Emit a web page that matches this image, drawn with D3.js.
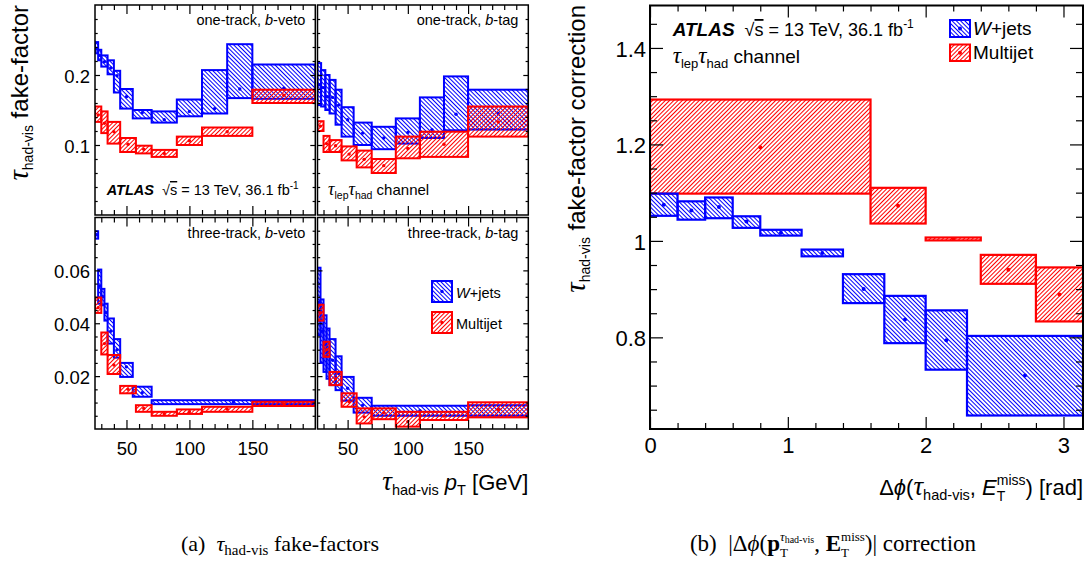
<!DOCTYPE html>
<html><head><meta charset="utf-8">
<script src="https://cdn.jsdelivr.net/npm/d3@7"></script>
<style>body{margin:0;background:#fff} svg{display:block} text{white-space:pre}</style>
</head><body><svg id="c" width="1090" height="563"></svg>
<script>
// ---------------- DATA ----------------
const ptDomain = [25, 200];
const ptMajor = [50, 100, 150];
const ptMinor = [30, 40, 60, 70, 80, 90, 110, 120, 130, 140, 160, 170, 180, 190];
const ffTopDomain = [0, 0.3];
const ffTopMajor = [0.1, 0.2];
const ffTopMinor = [0.02, 0.04, 0.06, 0.08, 0.12, 0.14, 0.16, 0.18, 0.22, 0.24, 0.26, 0.28];
const ffBotDomain = [0, 0.08];
const ffBotMajor = [0.02, 0.04, 0.06];
const ffBotMinor = [0.005, 0.01, 0.015, 0.025, 0.03, 0.035, 0.045, 0.05, 0.055, 0.065, 0.07, 0.075];

// one-track, b-veto
const wj1bvEdges = [25, 27.5, 30, 35, 40, 45, 55, 70, 90, 110, 130, 150, 200];
const wj1bvVal = [0.237, 0.228, 0.219, 0.210, 0.199, 0.169, 0.146, 0.136, 0.148, 0.152, 0.180, 0.181];
const wj1bvLo  = [0.231, 0.221, 0.212, 0.201, 0.175, 0.152, 0.138, 0.132, 0.141, 0.145, 0.167, 0.166];
const wj1bvHi  = [0.247, 0.236, 0.228, 0.221, 0.206, 0.180, 0.150, 0.148, 0.165, 0.207, 0.244, 0.215];
const mj1bvEdges = [25, 30, 35, 45, 57.5, 70, 90, 110, 150, 200];
const mj1bvVal = [0.143, 0.131, 0.119, 0.101, 0.094, 0.088, 0.106, 0.119, 0.171];
const mj1bvLo  = [0.133, 0.117, 0.102, 0.090, 0.088, 0.083, 0.100, 0.113, 0.160];
const mj1bvHi  = [0.155, 0.148, 0.133, 0.110, 0.099, 0.093, 0.112, 0.125, 0.179];

// one-track, b-tag
const wj1btEdges = [25, 28, 31.5, 35, 40, 45, 55, 70, 90, 110, 130, 150, 200];
const wj1btVal = [0.186, 0.182, 0.169, 0.168, 0.157, 0.136, 0.117, 0.110, 0.118, 0.122, 0.144, 0.145];
const wj1btLo  = [0.157, 0.155, 0.150, 0.145, 0.129, 0.112, 0.100, 0.094, 0.102, 0.110, 0.121, 0.122];
const wj1btHi  = [0.217, 0.207, 0.200, 0.193, 0.179, 0.154, 0.132, 0.126, 0.138, 0.168, 0.198, 0.179];
const mj1btEdges = [25, 30, 35, 45, 57.5, 70, 90, 110, 150, 200];
const mj1btVal = [0.127, 0.102, 0.099, 0.087, 0.0795, 0.0705, 0.095, 0.101, 0.133];
const mj1btLo  = [0.120, 0.090, 0.090, 0.078, 0.068, 0.060, 0.081, 0.083, 0.112];
const mj1btHi  = [0.134, 0.113, 0.107, 0.098, 0.092, 0.080, 0.112, 0.119, 0.155];

// three-track, b-veto
const wj3bvEdges = [25, 27.5, 30, 32.5, 35, 40, 45, 55, 70, 200];
const wj3bvVal = [0.0735, 0.054, 0.050, 0.044, 0.037, 0.030, 0.0235, 0.0137, 0.0102];
const wj3bvLo  = [0.0720, 0.0474, 0.0468, 0.0410, 0.0323, 0.0270, 0.0197, 0.0122, 0.0094];
const wj3bvHi  = [0.0748, 0.0603, 0.0530, 0.0474, 0.0418, 0.0340, 0.0250, 0.0160, 0.0109];
const mj3bvEdges = [25, 30, 35, 45, 57.5, 70, 90, 110, 150, 200];
const mj3bvVal = [0.0459, 0.0323, 0.0242, 0.0150, 0.0078, 0.0058, 0.0065, 0.0075, 0.0095];
const mj3bvLo  = [0.0439, 0.0282, 0.0208, 0.0135, 0.0065, 0.0050, 0.0057, 0.0065, 0.0087];
const mj3bvHi  = [0.0497, 0.0365, 0.0280, 0.0163, 0.0090, 0.0065, 0.0074, 0.0084, 0.0103];

// three-track, b-tag
const wj3btEdges = [25, 27.5, 30, 32.5, 35, 40, 45, 55, 70, 150, 200];
const wj3btVal = [0.048, 0.037, 0.032, 0.029, 0.026, 0.021, 0.0154, 0.0090, 0.0069, 0.0072];
const wj3btLo  = [0.0355, 0.025, 0.0216, 0.019, 0.0166, 0.0147, 0.0107, 0.0062, 0.0050, 0.0050];
const wj3btHi  = [0.061, 0.049, 0.043, 0.038, 0.034, 0.0275, 0.0197, 0.0118, 0.0088, 0.0090];
const mj3btEdges = [25, 30, 35, 45, 57.5, 70, 90, 110, 150, 200];
const mj3btVal = [0.044, 0.030, 0.019, 0.0103, 0.0046, 0.0062, 0.0028, 0.0049, 0.0074];
const mj3btLo  = [0.041, 0.0273, 0.0166, 0.0084, 0.0021, 0.0037, 0.0009, 0.0034, 0.0044];
const mj3btHi  = [0.047, 0.033, 0.0216, 0.0135, 0.0078, 0.0078, 0.0065, 0.0065, 0.0101];

// Delta-phi correction
const dphiDomain = [0, 3.1416];
const dphiMajor = [0, 1, 2, 3];
const dphiMinor = [0.2, 0.4, 0.6, 0.8, 1.2, 1.4, 1.6, 1.8, 2.2, 2.4, 2.6, 2.8];
const corrDomain = [0.61, 1.488];
const corrMajor = [0.8, 1.0, 1.2, 1.4];
const corrMinor = [0.65, 0.7, 0.75, 0.85, 0.9, 0.95, 1.05, 1.1, 1.15, 1.25, 1.3, 1.35, 1.45];
const wjDphiEdges = [0, 0.2, 0.4, 0.6, 0.8, 1.1, 1.4, 1.7, 2.0, 2.3, 3.1416];
const wjDphiVal = [1.075, 1.063, 1.070, 1.040, 1.017, 0.975, 0.900, 0.837, 0.794, 0.721];
const wjDphiLo  = [1.052, 1.044, 1.047, 1.027, 1.011, 0.968, 0.871, 0.788, 0.733, 0.638];
const wjDphiHi  = [1.098, 1.082, 1.090, 1.051, 1.023, 0.982, 0.931, 0.886, 0.856, 0.803];
const mjDphiEdges = [0, 1.6, 2.0, 2.4, 2.8, 3.1416];
const mjDphiVal = [1.194, 1.073, 1.004, 0.940, 0.889];
const mjDphiLo  = [1.098, 1.036, 1.001, 0.911, 0.833];
const mjDphiHi  = [1.293, 1.110, 1.007, 0.971, 0.945];

// ---------------- RENDER ----------------
const SANS = "'Liberation Sans', Arial, Helvetica, sans-serif";
const SERIF = "'Liberation Serif', 'Times New Roman', serif";
const BLUE = "#0000ff", RED = "#ff0000";
const svg = d3.select("#c");
const defs = svg.append("defs");
function makeHatch(id, color, angle, sp) {
  const p = defs.append("pattern").attr("id", id).attr("patternUnits", "userSpaceOnUse")
    .attr("width", sp).attr("height", 10).attr("patternTransform", `rotate(${angle})`);
  p.append("rect").attr("x", sp / 2 - 0.5).attr("y", 0).attr("width", 1).attr("height", 10).attr("fill", color);
}
makeHatch("hB", BLUE, -45, 3);
makeHatch("hR", RED, 45, 3);

function drawSeries(g, xs, ys, edges, val, lo, hi, color, pat, r, sw) {
  const idx = d3.range(val.length);
  g.append("g").selectAll("rect").data(idx).join("rect")
    .attr("x", i => xs(edges[i])).attr("width", i => xs(edges[i + 1]) - xs(edges[i]))
    .attr("y", i => ys(hi[i])).attr("height", i => Math.max(ys(lo[i]) - ys(hi[i]), 1))
    .attr("fill", `url(#${pat})`).attr("stroke", color).attr("stroke-width", sw);
  g.append("g").selectAll("circle").data(idx).join("circle")
    .attr("cx", i => (xs(edges[i]) + xs(edges[i + 1])) / 2).attr("cy", i => ys(val[i]))
    .attr("r", r).attr("fill", color);
}

function axisTicks(g, scale, orient, tx, ty, values, len, labels, fs, pad, dy) {
  const gen = { left: d3.axisLeft, right: d3.axisRight, top: d3.axisTop, bottom: d3.axisBottom }[orient];
  const ax = gen(scale).tickValues(values).tickSizeInner(-len).tickSizeOuter(0).tickPadding(pad || 3)
    .tickFormat(labels ? (d => String(d)) : (() => ""));
  const a = g.append("g").attr("transform", `translate(${tx},${ty})`).call(ax);
  a.select(".domain").remove();
  a.selectAll("line").attr("stroke", "#000").attr("stroke-width", 1.2);
  a.selectAll("text").attr("font-size", fs || 10).attr("font-family", SANS).attr("fill", "#000");
  if (dy) a.selectAll("text").attr("dy", dy);
}

function rich(g, x, y, segs, opt) {
  const t = g.append("text").attr("x", x).attr("y", y).attr("font-size", opt.fs)
    .attr("text-anchor", opt.anchor || "start").attr("font-family", opt.ff || SANS).attr("fill", "#000");
  if (opt.rot) t.attr("transform", `rotate(${opt.rot},${x},${y})`);
  let cur = 0;
  segs.forEach(s => {
    const sh = s.sh || 0;
    const ts = t.append("tspan").text(s.t).attr("dy", sh - cur);
    cur = sh;
    if (s.fs) ts.attr("font-size", s.fs);
    if (s.it) ts.attr("font-style", "italic");
    if (s.b) ts.attr("font-weight", "bold");
    if (s.dx) ts.attr("dx", s.dx);
    if (s.ol) ts.attr("text-decoration", "overline");
    if (s.ff) ts.attr("font-family", s.ff);
  });
  return t;
}
// a tau glyph segment (larger, serif italic like ROOT's symbol font)
function tau(size, sh) { return { t: "τ", fs: size, it: true, ff: SERIF, sh: sh || 0 }; }

function legendBox(g, x, y, w, h, color, pat, r) {
  g.append("rect").attr("x", x).attr("y", y).attr("width", w).attr("height", h)
    .attr("fill", `url(#${pat})`).attr("stroke", color).attr("stroke-width", 2);
  g.append("circle").attr("cx", x + w / 2).attr("cy", y + h / 2).attr("r", r).attr("fill", color);
}

let clipN = 0;
function panel(o) {
  const xs = d3.scaleLinear().domain(ptDomain).range([o.x0, o.x1]);
  const ys = d3.scaleLinear().domain(o.yd).range([o.y1, o.y0]);
  const g = svg.append("g");
  const cid = "clip" + (clipN++);
  defs.append("clipPath").attr("id", cid).append("rect")
    .attr("x", o.x0).attr("y", o.y0).attr("width", o.x1 - o.x0).attr("height", o.y1 - o.y0);
  const dg = g.append("g").attr("clip-path", `url(#${cid})`);
  drawSeries(dg, xs, ys, o.wj[0], o.wj[1], o.wj[2], o.wj[3], BLUE, "hB", 1.7, 2);
  drawSeries(dg, xs, ys, o.mj[0], o.mj[1], o.mj[2], o.mj[3], RED, "hR", 1.7, 2);
  axisTicks(g, ys, "left", o.x0, 0, o.yMajor, 5, o.showY, 18.5, 5, "0.4em");
  axisTicks(g, ys, "left", o.x0, 0, o.yMinor, 2.7, false);
  axisTicks(g, ys, "right", o.x1, 0, o.yMajor, 5, false);
  axisTicks(g, ys, "right", o.x1, 0, o.yMinor, 2.7, false);
  axisTicks(g, xs, "bottom", 0, o.y1, ptMajor, 9, o.showX, 18.5, 13);
  axisTicks(g, xs, "bottom", 0, o.y1, ptMinor, 5, false);
  axisTicks(g, xs, "top", 0, o.y0, ptMajor, 9, false);
  axisTicks(g, xs, "top", 0, o.y0, ptMinor, 5, false);
  g.append("rect").attr("x", o.x0).attr("y", o.y0).attr("width", o.x1 - o.x0).attr("height", o.y1 - o.y0)
    .attr("fill", "none").attr("stroke", "#000").attr("stroke-width", 1.5);
  rich(g, o.x1 - 10, o.y0 + 20, o.label, { fs: 14.5, anchor: "end" });
  return g;
}

const L = { x0: 95, x1: 315.3, y0: 5, y1: 215 };
const R = { x0: 317.5, x1: 528.3 };
const B = { y0: 217.5, y1: 429 };

panel({ x0: L.x0, x1: L.x1, y0: L.y0, y1: L.y1, yd: ffTopDomain, yMajor: ffTopMajor, yMinor: ffTopMinor,
  showY: true, showX: false, wj: [wj1bvEdges, wj1bvVal, wj1bvLo, wj1bvHi], mj: [mj1bvEdges, mj1bvVal, mj1bvLo, mj1bvHi],
  label: [{ t: "one-track, " }, { t: "b", it: true }, { t: "-veto" }] });
panel({ x0: R.x0, x1: R.x1, y0: L.y0, y1: L.y1, yd: ffTopDomain, yMajor: ffTopMajor, yMinor: ffTopMinor,
  showY: false, showX: false, wj: [wj1btEdges, wj1btVal, wj1btLo, wj1btHi], mj: [mj1btEdges, mj1btVal, mj1btLo, mj1btHi],
  label: [{ t: "one-track, " }, { t: "b", it: true }, { t: "-tag" }] });
panel({ x0: L.x0, x1: L.x1, y0: B.y0, y1: B.y1, yd: ffBotDomain, yMajor: ffBotMajor, yMinor: ffBotMinor,
  showY: true, showX: true, wj: [wj3bvEdges, wj3bvVal, wj3bvLo, wj3bvHi], mj: [mj3bvEdges, mj3bvVal, mj3bvLo, mj3bvHi],
  label: [{ t: "three-track, " }, { t: "b", it: true }, { t: "-veto" }] });
panel({ x0: R.x0, x1: R.x1, y0: B.y0, y1: B.y1, yd: ffBotDomain, yMajor: ffBotMajor, yMinor: ffBotMinor,
  showY: false, showX: true, wj: [wj3btEdges, wj3btVal, wj3btLo, wj3btHi], mj: [mj3btEdges, mj3btVal, mj3btLo, mj3btHi],
  label: [{ t: "three-track, " }, { t: "b", it: true }, { t: "-tag" }] });

// left chart annotations
const ann = svg.append("g");
rich(ann, 106.7, 195, [{ t: "ATLAS", b: true, it: true }, { t: "  √" }, { t: "s", ol: true }, { t: " = 13 TeV, 36.1 fb" }, { t: "-1", fs: 10, sh: -6 }], { fs: 14.5 });
rich(ann, 328, 195, [tau(18), { t: "lep", fs: 10.5, sh: 4 }, tau(18, 0), { t: "had", fs: 10.5, sh: 4 }, { t: " channel", sh: 0 }], { fs: 15 });
legendBox(ann, 432, 281, 20, 21, BLUE, "hB", 1.7);
legendBox(ann, 432, 312, 20, 21, RED, "hR", 1.7);
rich(ann, 456, 298, [{ t: "W", it: true }, { t: "+jets" }], { fs: 14.5 });
rich(ann, 456, 329, [{ t: "Multijet" }], { fs: 14.5 });

// axis titles left chart
rich(ann, 28, 5, [tau(29), { t: "had-vis", fs: 14, sh: 5 }, { t: " fake-factor", sh: 0 }], { fs: 24, anchor: "end", rot: -90 });
rich(ann, 528.3, 490, [tau(27), { t: "had-vis", fs: 14.5, sh: 5 }, { t: " ", sh: 0 }, { t: "p", it: true }, { t: "T", fs: 14.5, sh: 5 }, { t: " [GeV]", sh: 0 }], { fs: 22, anchor: "end" });

// ---------------- RIGHT CHART ----------------
const rx = d3.scaleLinear().domain(dphiDomain).range([650, 1083]);
const ry = d3.scaleLinear().domain(corrDomain).range([429, 5.5]);
const rg = svg.append("g");
defs.append("clipPath").attr("id", "clipR").append("rect").attr("x", 650).attr("y", 5.5).attr("width", 433).attr("height", 423.5);
const rdg = rg.append("g").attr("clip-path", "url(#clipR)");
drawSeries(rdg, rx, ry, mjDphiEdges, mjDphiVal, mjDphiLo, mjDphiHi, RED, "hR", 2, 2.2);
drawSeries(rdg, rx, ry, wjDphiEdges, wjDphiVal, wjDphiLo, wjDphiHi, BLUE, "hB", 2, 2.2);
axisTicks(rg, ry, "left", 650, 0, corrMajor, 13, true, 22, 4, "0.37em");
axisTicks(rg, ry, "left", 650, 0, corrMinor, 7, false);
axisTicks(rg, ry, "right", 1083, 0, corrMajor, 13, false);
axisTicks(rg, ry, "right", 1083, 0, corrMinor, 7, false);
axisTicks(rg, rx, "bottom", 0, 429, dphiMajor, 12, true, 22, 8.5);
axisTicks(rg, rx, "bottom", 0, 429, dphiMinor, 6, false);
axisTicks(rg, rx, "top", 0, 5.5, dphiMajor, 12, false);
axisTicks(rg, rx, "top", 0, 5.5, dphiMinor, 6, false);
rg.append("rect").attr("x", 650).attr("y", 5.5).attr("width", 433).attr("height", 423.5)
  .attr("fill", "none").attr("stroke", "#000").attr("stroke-width", 2);

rich(rg, 672.7, 36, [{ t: "ATLAS", b: true, it: true }, { t: "  √", fs: 18 }, { t: "s", fs: 18, ol: true }, { t: " = 13 TeV, 36.1 fb", fs: 18 }, { t: "-1", fs: 12, sh: -8 }], { fs: 19 });
rich(rg, 672.7, 62.5, [tau(23), { t: "lep", fs: 13, sh: 5 }, tau(23, 0), { t: "had", fs: 13, sh: 5 }, { t: " channel", sh: 0 }], { fs: 19 });
legendBox(rg, 950, 20, 20, 17, BLUE, "hB", 2);
legendBox(rg, 950, 44.5, 20, 16.5, RED, "hR", 2);
rich(rg, 973, 35, [{ t: "W", it: true }, { t: "+jets" }], { fs: 19 });
rich(rg, 973, 58.5, [{ t: "Multijet" }], { fs: 19 });

rich(rg, 585, 5, [tau(29), { t: "had-vis", fs: 14, sh: 5 }, { t: " fake-factor correction", sh: 0 }], { fs: 24, anchor: "end", rot: -90 });
rich(rg, 1083, 495, [{ t: "Δ" }, { t: "ϕ", it: true }, { t: "(" }, tau(27), { t: "had-vis", fs: 14.5, sh: 5 }, { t: ", ", sh: 0 }, { t: "E", it: true },
  { t: "T", fs: 14, sh: 6 }, { t: "miss", fs: 14, sh: -10, dx: -8.6 }, { t: ") [rad]", sh: 0 }], { fs: 22, anchor: "end" });

// ---------------- CAPTIONS ----------------
rich(svg, 280, 551, [{ t: "(a)  " }, { t: "τ", it: true }, { t: "had-vis", fs: 15, sh: 4 }, { t: " fake-factors", sh: 0 }], { fs: 22, anchor: "middle", ff: SERIF });
rich(svg, 833, 551, [{ t: "(b)  |Δ" }, { t: "ϕ", it: true }, { t: "(" }, { t: "p", b: true }, { t: "T", fs: 13, sh: 6 },
  { t: "τ", fs: 13, it: true, sh: -10, dx: -7.9 }, { t: "had-vis", fs: 10, sh: -8.5 }, { t: ", ", sh: 0 }, { t: "E", b: true },
  { t: "T", fs: 13, sh: 6 }, { t: "miss", fs: 13, sh: -10, dx: -7.9 }, { t: ")| correction", sh: 0 }], { fs: 23, anchor: "middle", ff: SERIF });
</script></body></html>
